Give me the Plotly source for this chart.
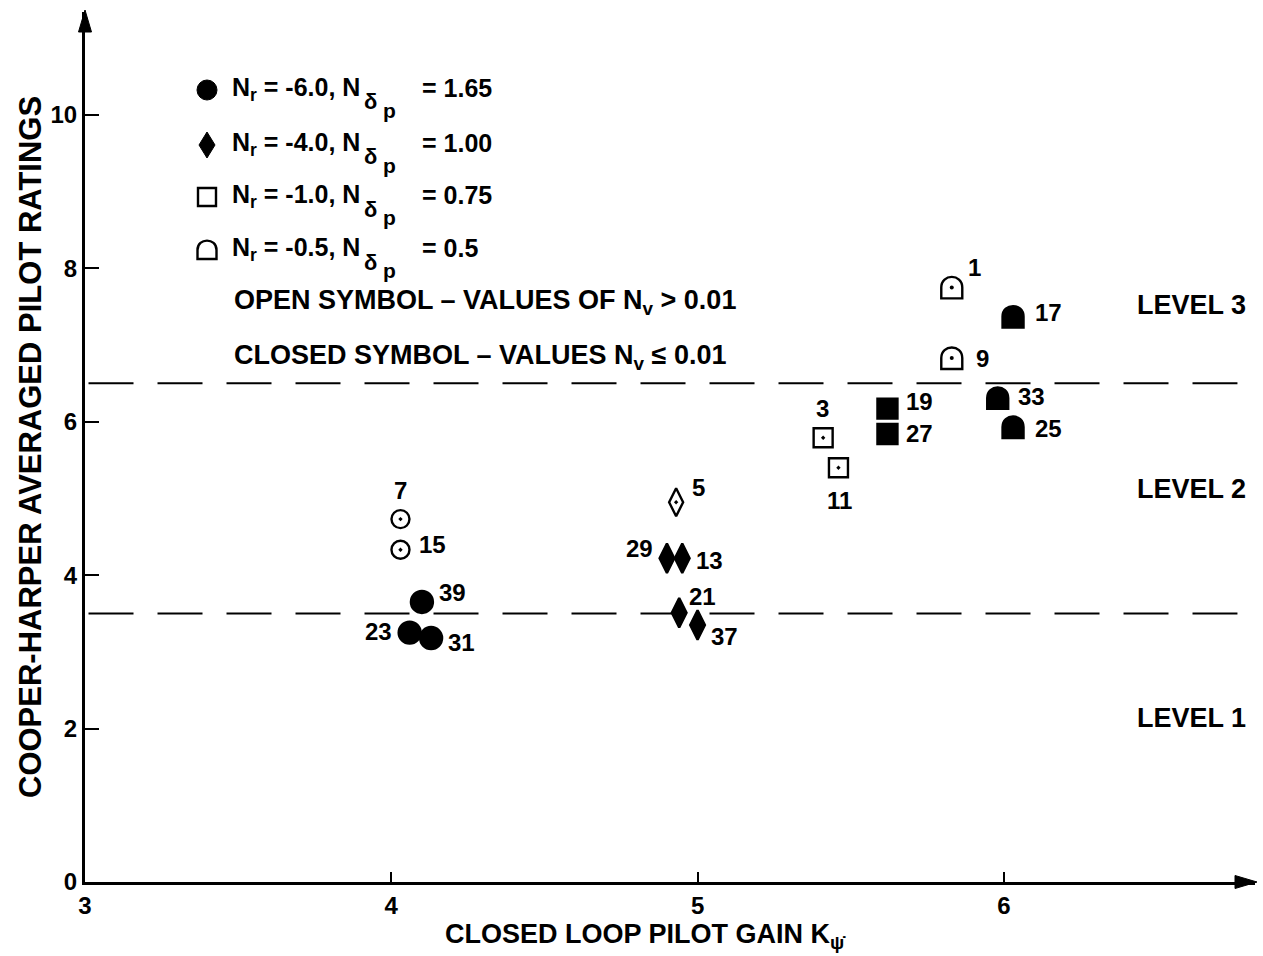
import plotly.graph_objects as go

# ---------------- data ----------------
# N_r = -6.0 (circles)
circ_closed_ids = ["39", "23", "31"]
circ_closed_x = [4.10, 4.06, 4.13]
circ_closed_y = [3.65, 3.25, 3.18]
circ_open_ids = ["7", "15"]
circ_open_x = [4.03, 4.03]
circ_open_y = [4.73, 4.33]
# N_r = -4.0 (diamonds)
diam_closed_ids = ["29", "13", "21", "37"]
diam_closed_x = [4.90, 4.95, 4.94, 5.00]
diam_closed_y = [4.22, 4.22, 3.51, 3.35]
diam_open_ids = ["5"]
diam_open_x = [4.93]
diam_open_y = [4.95]
# N_r = -1.0 (squares)
sq_closed_ids = ["19", "27"]
sq_closed_x = [5.62, 5.62]
sq_closed_y = [6.17, 5.84]
sq_open_ids = ["3", "11"]
sq_open_x = [5.41, 5.46]
sq_open_y = [5.79, 5.40]
# N_r = -0.5 (domes)
dome_closed_ids = ["17", "33", "25"]
dome_closed_x = [6.03, 5.98, 6.03]
dome_closed_y = [7.37, 6.31, 5.93]
dome_open_ids = ["1", "9"]
dome_open_x = [5.83, 5.83]
dome_open_y = [7.75, 6.83]

level_bounds = [3.5, 6.5]
level_names = ["LEVEL 1", "LEVEL 2", "LEVEL 3"]
x_ticks = [3, 4, 5, 6]
y_ticks = [0, 2, 4, 6, 8, 10]
legend_nr = ["-6.0", "-4.0", "-1.0", "-0.5"]
legend_nd = ["1.65", "1.00", "0.75", "0.5"]

# ---------------- layout constants ----------------
W, H = 1263, 956
ML, MR, MT, MB = 85, 8, 12, 74
PW, PH = W - ML - MR, H - MT - MB
FONT = "Liberation Sans, Arial, Helvetica, sans-serif"

def pxx(px):
    return (px - ML) / PW

def pxy(py):
    return (H - MB - py) / PH

# label offsets in pixels (dx right, dy down) per run id
label_off = {
    "1": (23, -20), "9": (31, 0), "17": (35, -4), "33": (34, -1), "25": (35, 1),
    "19": (32, -7), "27": (32, 0), "3": (-1, -29), "11": (1, 33),
    "5": (22, -15), "29": (-27, -10), "13": (27, 2), "21": (23, -16), "37": (27, 12),
    "7": (0, -29), "15": (32, -5), "39": (31, -9), "23": (-31, -1), "31": (30, 4),
}

DOME = "M -10.5 -11 L -10.5 0 C -10.5 14 10.5 14 10.5 0 L 10.5 -11 Z"
DIAMOND_KEY = "M 0 13 L 8 0 L 0 -13 L -8 0 Z"

fig = go.Figure()

def add_markers(xs, ys, symbol, size, filled):
    fig.add_trace(go.Scatter(
        x=xs, y=ys, mode="markers", showlegend=False, hoverinfo="x+y",
        marker=dict(symbol=symbol, size=size,
                    color="black" if filled else "white",
                    line=dict(color="black", width=2.4)),
    ))

add_markers(circ_closed_x, circ_closed_y, "circle", 22, True)
add_markers(circ_open_x, circ_open_y, "circle-dot", 18, False)
add_markers(diam_closed_x, diam_closed_y, "diamond-tall", 21, True)
add_markers(diam_open_x, diam_open_y, "diamond-tall-dot", 20, False)
add_markers(sq_closed_x, sq_closed_y, "square", 20, True)
add_markers(sq_open_x, sq_open_y, "square-dot", 19, False)

shapes = []
# level boundary dashed lines
for b in level_bounds:
    shapes.append(dict(type="line", xref="paper", yref="y", x0=0.003, x1=0.985,
                       y0=b, y1=b, line=dict(color="black", width=2, dash="45px,24px"),
                       layer="below"))
# dome symbols anchored to data
for xs, ys, filled in [(dome_closed_x, dome_closed_y, True), (dome_open_x, dome_open_y, False)]:
    for x, y in zip(xs, ys):
        shapes.append(dict(type="path", xref="x", yref="y", xsizemode="pixel",
                           ysizemode="pixel", xanchor=x, yanchor=y, path=DOME,
                           fillcolor="black" if filled else "white",
                           line=dict(color="black", width=2.4), layer="below"))
# dots in open domes
fig.add_trace(go.Scatter(x=dome_open_x, y=dome_open_y, mode="markers", showlegend=False,
                         marker=dict(symbol="circle", size=4, color="black")))

# axis arrowheads
shapes.append(dict(type="path", xref="paper", yref="paper", xsizemode="pixel",
                   ysizemode="pixel", xanchor=0, yanchor=1,
                   path="M -6.5 -20 L 0 2 L 6.5 -20 Z", fillcolor="black",
                   line=dict(color="black", width=1)))
shapes.append(dict(type="path", xref="paper", yref="paper", xsizemode="pixel",
                   ysizemode="pixel", xanchor=1, yanchor=0,
                   path="M -20 6.5 L 2 0 L -20 -6.5 Z", fillcolor="black",
                   line=dict(color="black", width=1)))

# legend keys
key_x = pxx(207)
key_rows = [90, 145, 197, 250]
shapes.append(dict(type="circle", xref="paper", yref="paper", xsizemode="pixel",
                   ysizemode="pixel", xanchor=key_x, yanchor=pxy(key_rows[0]),
                   x0=-10, x1=10, y0=-10, y1=10, fillcolor="black",
                   line=dict(color="black", width=1)))
shapes.append(dict(type="path", xref="paper", yref="paper", xsizemode="pixel",
                   ysizemode="pixel", xanchor=key_x, yanchor=pxy(key_rows[1]),
                   path=DIAMOND_KEY, fillcolor="black", line=dict(color="black", width=1)))
shapes.append(dict(type="rect", xref="paper", yref="paper", xsizemode="pixel",
                   ysizemode="pixel", xanchor=key_x, yanchor=pxy(key_rows[2]),
                   x0=-9, x1=9, y0=-9, y1=9, fillcolor="white",
                   line=dict(color="black", width=2.4)))
shapes.append(dict(type="path", xref="paper", yref="paper", xsizemode="pixel",
                   ysizemode="pixel", xanchor=key_x, yanchor=pxy(key_rows[3]),
                   path="M -9.5 -9 L -9.5 0 C -9.5 12.5 9.5 12.5 9.5 0 L 9.5 -9 Z",
                   fillcolor="white", line=dict(color="black", width=2.4)))

ann = []
bold = dict(family=FONT, color="black", weight="bold")

def note(text, px, py, size, anchor="left", angle=0):
    ann.append(dict(text=text, x=pxx(px), y=pxy(py), xref="paper", yref="paper",
                    xanchor=anchor, yanchor="middle", showarrow=False, textangle=angle,
                    font=dict(size=size, **bold)))

# legend text
for row, nr, nd in zip(key_rows, legend_nr, legend_nd):
    note(f"N<sub>r</sub> = {nr}, N", 230, row - 1, 25)
    note("δ", 362, row + 12, 22)
    note("p", 381, row + 20, 21)
    note(f"= {nd}", 420, row - 2, 25)

note("OPEN SYMBOL – VALUES OF N<sub>v</sub> > 0.01", 232, 302, 27)
note("CLOSED SYMBOL – VALUES N<sub>v</sub> ≤ 0.01", 232, 357, 27)

# level labels
for name, py in zip(level_names, [718, 489, 305]):
    note(name, 1191, py, 27, anchor="center")

# axis titles
note("CLOSED LOOP PILOT GAIN K<sub>ψ̇</sub>", 645, 936, 27, anchor="center")
note("COOPER-HARPER AVERAGED PILOT RATINGS", 30, 447, 31, anchor="center", angle=-90)

# point labels
for ids, xs, ys in [(circ_closed_ids, circ_closed_x, circ_closed_y),
                    (circ_open_ids, circ_open_x, circ_open_y),
                    (diam_closed_ids, diam_closed_x, diam_closed_y),
                    (diam_open_ids, diam_open_x, diam_open_y),
                    (sq_closed_ids, sq_closed_x, sq_closed_y),
                    (sq_open_ids, sq_open_x, sq_open_y),
                    (dome_closed_ids, dome_closed_x, dome_closed_y),
                    (dome_open_ids, dome_open_x, dome_open_y)]:
    for rid, x, y in zip(ids, xs, ys):
        dx, dy = label_off[rid]
        ann.append(dict(text=rid, x=x, y=y, xref="x", yref="y", showarrow=False,
                        xshift=dx, yshift=-dy, xanchor="center", yanchor="middle",
                        font=dict(size=24, **bold)))

axis_common = dict(showline=True, linecolor="black", linewidth=3, ticks="inside",
                   tickcolor="black", tickwidth=2, showgrid=False, zeroline=False,
                   tickfont=dict(size=24, **bold), fixedrange=True)

fig.update_layout(
    width=W, height=H,
    margin=dict(l=ML, r=MR, t=MT, b=MB),
    paper_bgcolor="white", plot_bgcolor="white",
    xaxis=dict(range=[3, 6.82], tickvals=x_ticks, ticklen=10, **axis_common),
    yaxis=dict(range=[0, 11.34], tickvals=y_ticks, ticklen=14, **axis_common),
    shapes=shapes, annotations=ann, showlegend=False,
)

fig.write_html("out.html", config={"displayModeBar": False},
               post_script="document.body.style.margin='0';")
